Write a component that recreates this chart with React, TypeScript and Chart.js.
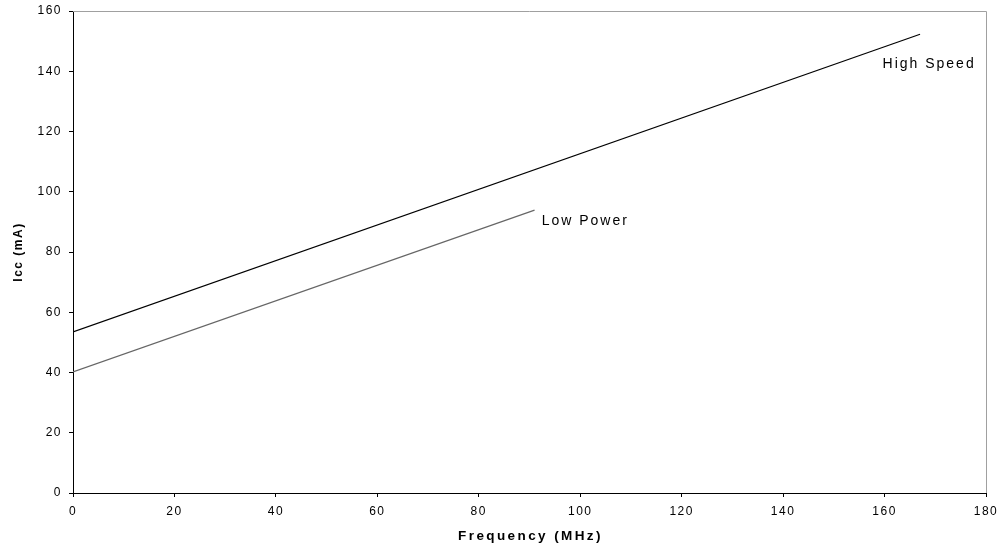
import React, { useEffect, useRef } from "react";
import { Chart, registerables } from "chart.js";

Chart.register(...registerables);

const seriesNames = ["High Speed", "Low Power"];
const highSpeedX = [0, 167];
const highSpeedY = [53.5, 152.3];
const lowPowerX = [0, 91];
const lowPowerY = [40.2, 93.9];
const xTitle = "Frequency (MHz)";
const yTitle = "Icc (mA)";

const FONT = "'Liberation Sans', Arial, Helvetica, sans-serif";

const toPoints = (xs: number[], ys: number[]) => xs.map((x, i) => ({ x, y: ys[i] }));

// annotation anchors (data coordinates) for the series labels
const labelAnchors = [
  { x: 159.6, y: 141.0 },
  { x: 92.4, y: 89 },
];

const decorPlugin = {
  id: "decor",
  beforeDraw(chart: any) {
    chart.ctx.letterSpacing = "1.5px";
  },
  afterDraw(chart: any) {
    const ctx = chart.ctx;
    const { left, right, top, bottom } = chart.chartArea;
    const xs = chart.scales.x;
    const ys = chart.scales.y;
    ctx.save();
    // gray top and right border
    ctx.strokeStyle = "#a0a0a0";
    ctx.lineWidth = 1;
    ctx.beginPath();
    ctx.moveTo(left, top + 0.5);
    ctx.lineTo(right + 0.5, top + 0.5);
    ctx.lineTo(right + 0.5, bottom);
    ctx.stroke();

    ctx.fillStyle = "#000";
    // series labels
    ctx.letterSpacing = "2px";
    ctx.font = `14px ${FONT}`;
    ctx.textAlign = "left";
    ctx.textBaseline = "alphabetic";
    seriesNames.forEach((name, i) => {
      const a = labelAnchors[i];
      ctx.fillText(name, xs.getPixelForValue(a.x), ys.getPixelForValue(a.y));
    });

    // x title
    ctx.font = `bold 13.5px ${FONT}`;
    ctx.letterSpacing = "2.4px";
    ctx.textAlign = "center";
    ctx.fillText(xTitle, (left + right) / 2 + 1, 540);

    // y title
    ctx.font = `bold 12px ${FONT}`;
    ctx.letterSpacing = "1.5px";
    ctx.translate(22, (top + bottom) / 2);
    ctx.rotate(-Math.PI / 2);
    ctx.fillText(yTitle, 0, 0);
    ctx.restore();
    ctx.letterSpacing = "0px";
  },
};

export default function App() {
  const ref = useRef<HTMLCanvasElement>(null);
  useEffect(() => {
    if (!ref.current) return;
    const chart = new Chart(ref.current, {
      type: "line",
      data: {
        datasets: [
          {
            label: seriesNames[0],
            data: toPoints(highSpeedX, highSpeedY),
            borderColor: "#000000",
            borderWidth: 1.2,
            pointRadius: 0,
            fill: false,
          },
          {
            label: seriesNames[1],
            data: toPoints(lowPowerX, lowPowerY),
            borderColor: "#666666",
            borderWidth: 1.2,
            pointRadius: 0,
            fill: false,
          },
        ],
      },
      options: {
        animation: false,
        responsive: true,
        maintainAspectRatio: false,
        layout: { padding: { top: 11, right: 14, left: 0, bottom: 0 } },
        plugins: {
          legend: { display: false },
          tooltip: { enabled: false },
        },
        scales: {
          x: {
            type: "linear",
            min: 0,
            max: 180,
            ticks: {
              stepSize: 20,
              color: "#000",
              padding: 7,
              maxRotation: 0,
              font: { family: FONT, size: 12 },
            },
            grid: {
              drawOnChartArea: false,
              drawTicks: true,
              tickLength: 4,
              color: "#000",
            },
            border: { display: true, color: "#000", width: 1 },
            afterFit: (s: any) => {
              s.height = 54;
              s.paddingLeft = 0;
              s.paddingRight = 0;
            },
          },
          y: {
            type: "linear",
            min: 0,
            max: 160,
            ticks: {
              stepSize: 20,
              color: "#000",
              padding: 7,
              font: { family: FONT, size: 12 },
            },
            grid: {
              drawOnChartArea: false,
              drawTicks: true,
              tickLength: 4,
              color: "#000",
            },
            border: { display: true, color: "#000", width: 1 },
            afterFit: (s: any) => {
              s.width = 73;
              s.paddingTop = 0;
              s.paddingBottom = 0;
            },
          },
        },
      },
      plugins: [decorPlugin],
    });
    return () => chart.destroy();
  }, []);
  return (
    <div style={{ position: "fixed", left: 0, top: 0, width: 1000, height: 547, background: "#fff" }}>
      <canvas ref={ref} />
    </div>
  );
}
